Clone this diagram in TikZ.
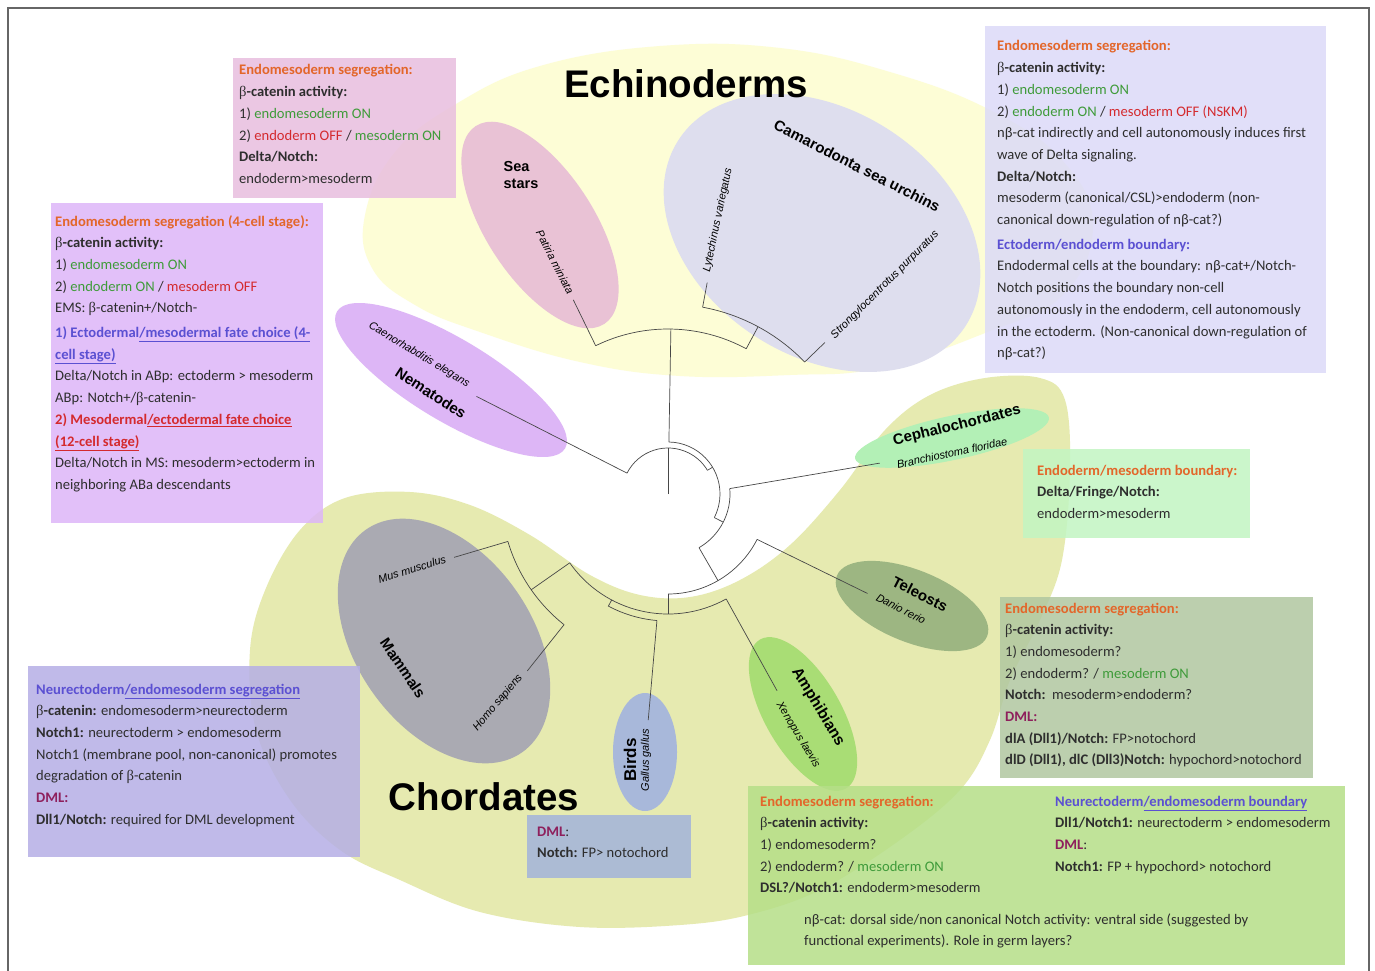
\documentclass[tikz,border=0pt]{standalone}
\usepackage{fontspec}
\setmainfont{Carlito}
\newfontfamily\arial{Liberation Sans}
\newfontfamily\serifb{Liberation Serif}
\usetikzlibrary{shapes.geometric}
\definecolor{corange}{HTML}{E3662A}
\definecolor{cgreen}{HTML}{3F9B3A}
\definecolor{cred}{HTML}{D42A2E}
\definecolor{cblue}{HTML}{5B50D2}
\definecolor{cdml}{HTML}{8E1F5C}
\definecolor{ctext}{HTML}{2E2E2E}
\definecolor{blobE}{HTML}{FDFDD6}
\definecolor{blobC}{HTML}{E6EAB0}
\definecolor{eSS}{HTML}{E9C2D5}
\definecolor{eCU}{HTML}{DEDEEE}
\definecolor{eNE}{HTML}{DDB6F6}
\definecolor{eCE}{HTML}{B3F0B6}
\definecolor{eTE}{HTML}{9DB682}
\definecolor{eAM}{HTML}{A9DD75}
\definecolor{eBI}{HTML}{A8B8DA}
\definecolor{eMA}{HTML}{AAAAB2}
\definecolor{cb1}{HTML}{E8BEDF}
\definecolor{cb2}{HTML}{DDB6F8}
\definecolor{cb3}{HTML}{DCDAF8}
\definecolor{cb4}{HTML}{C2F5C2}
\definecolor{cb5}{HTML}{B1C7A0}
\definecolor{cb6}{HTML}{B5DF88}
\definecolor{cb7}{HTML}{B5AFE6}
\definecolor{cb8}{HTML}{A2B3DB}
\newcommand\xbc{{\serifb β}}
\newcommand\xog[1]{\textcolor{corange}{\textbf{#1}}}
\newcommand\xgr[1]{\textcolor{cgreen}{#1}}
\newcommand\xrd[1]{\textcolor{cred}{#1}}
\newcommand\xbl[1]{\textcolor{cblue}{\textbf{#1}}}
\newcommand\xdm[1]{\textcolor{cdml}{\textbf{#1}}}
\newcommand\xbt[2]{\parbox[t]{#1}{\raggedright\fontsize{14.6}{21.7}\selectfont #2}}
\tikzset{
  tree/.style={draw=black!72, line width=0.7pt},
  boxbg/.style={draw=none, anchor=north west, inner sep=0pt, fill opacity=0.85},
  boxtxt/.style={anchor=base west, inner sep=0pt, text=ctext},
  ell/.style={ellipse, draw=none, inner sep=0pt},
  lab/.style={font=\arial\bfseries\fontsize{15}{17}\selectfont, inner sep=0pt, text=black},
  sp/.style={font=\arial\itshape\fontsize{11}{12}\selectfont, inner sep=0pt, text=black},
  big/.style={font=\arial\bfseries\fontsize{38.5}{40}\selectfont, inner sep=0pt, text=black},
}
\begin{document}
\begin{tikzpicture}[x=1pt,y=-1pt]
\useasboundingbox (0,0) rectangle (1375,971);
\fill[white] (0,0) rectangle (1375,971);
% background blobs
\fill[blobE] plot[smooth cycle, tension=0.7] coordinates {(365,215) (395,152) (456,104) (540,66) (660,46) (780,48) (890,72) (990,110) (1062,160) (1093,225) (1063,295) (985,333) (880,368) (790,375) (680,376) (580,362) (480,332) (415,305) (372,268)};
\fill[blobC] plot[smooth cycle, tension=0.6] coordinates {(250,650) (266,588) (300,530) (345,498) (410,492) (470,505) (530,535) (590,575) (640,595) (690,597) (740,580) (790,545) (840,490) (885,430) (930,395) (985,378) (1040,378) (1065,400) (1070,470) (1062,560) (1040,620) (1010,680) (990,740) (960,790) (900,840) (820,890) (748,915) (680,925) (580,927) (480,912) (400,880) (340,850) (290,800) (256,730)};
% ellipses
\node[ell, fill=eSS, minimum width=236pt, minimum height=108pt, rotate=-57] (eSS) at (540,225) {};
\node[ell, fill=eCU, minimum width=342pt, minimum height=246pt, rotate=-33] (eCU) at (822,233) {};
\node[ell, fill=eNE, minimum width=266pt, minimum height=82pt, rotate=-31] (eNE) at (451,380) {};
\node[ell, fill=eCE, minimum width=198pt, minimum height=44pt, rotate=12] (eCE) at (952,438) {};
\node[ell, fill=eTE, minimum width=162pt, minimum height=72pt, rotate=-22] (eTE) at (912,606) {};
\node[ell, fill=eAM, minimum width=172pt, minimum height=76pt, rotate=-60] (eAM) at (803,714) {};
\node[ell, fill=eBI, minimum width=64pt, minimum height=118pt] (eBI) at (645,752) {};
\node[ell, fill=eMA, minimum width=272pt, minimum height=176pt, rotate=-55] (eMA) at (444,641) {};
% boxes
\node[boxbg, fill=cb1, minimum width=223pt, minimum height=140pt] (b1) at (233,58) {};
\node[boxbg, fill=cb2, minimum width=272pt, minimum height=320pt] (b2) at (51,203) {};
\node[boxbg, fill=cb3, minimum width=341pt, minimum height=347pt] (b3) at (985,26) {};
\node[boxbg, fill=cb4, minimum width=227pt, minimum height=89pt] (b4) at (1023,449) {};
\node[boxbg, fill=cb5, minimum width=313pt, minimum height=181pt] (b5) at (1000,597) {};
\node[boxbg, fill=cb6, minimum width=597pt, minimum height=179pt] (b6) at (748,786) {};
\node[boxbg, fill=cb7, minimum width=332pt, minimum height=191pt] (b7) at (28,666) {};
\node[boxbg, fill=cb8, minimum width=164pt, minimum height=63pt] (b8) at (527,815) {};
% frame
\draw[black!60, line width=1.5pt] (8,990) -- (8,8) -- (1369,8) -- (1369,990);
% tree
\begin{scope}[shift={(668,494)}, yscale=-1]
\coordinate (root) at (0,0);
\coordinate (rA) at (90:46);
\draw[tree] (root) -- (rA);
\coordinate (rA1) at (153:46);
\draw[tree] (rA1) arc[start angle=153,end angle=31,radius=46] coordinate (rA2);
\coordinate (nemE) at (153:215);
\draw[tree] (rA1) -- (nemE);
\coordinate (dA) at (31:52);
\draw[tree] (rA2) -- (dA);
\coordinate (dA1) at (89:52);
\draw[tree] (dA1) arc[start angle=89,end angle=-27,radius=52] coordinate (dA2);
\coordinate (ech) at (89:165);
\draw[tree] (dA1) -- (ech);
\coordinate (ech1) at (116:165);
\draw[tree] (ech1) arc[start angle=116,end angle=61.7,radius=165] coordinate (ech2);
\coordinate (ssE) at (116:216);
\draw[tree] (ech1) -- (ssE);
\coordinate (urc) at (61.7:190);
\draw[tree] (ech2) -- (urc);
\coordinate (urc1) at (79.5:190);
\draw[tree] (urc1) arc[start angle=79.5,end angle=44,radius=190] coordinate (urc2);
\coordinate (lvE) at (79.5:215);
\draw[tree] (urc1) -- (lvE);
\coordinate (spE) at (44:218);
\draw[tree] (urc2) -- (spE);
\coordinate (chA) at (-27:62);
\draw[tree] (dA2) -- (chA);
\coordinate (chA1) at (5:62);
\draw[tree] (chA1) arc[start angle=5,end angle=-60,radius=62] coordinate (chA2);
\coordinate (bfE) at (8.3:214);
\draw[tree] (chA1) -- (bfE);
\coordinate (osA) at (-60:100);
\draw[tree] (chA2) -- (osA);
\coordinate (osA1) at (-27:100);
\draw[tree] (osA1) arc[start angle=-27,end angle=-90,radius=100] coordinate (osA2);
\coordinate (drE) at (-26.5:223);
\draw[tree] (osA1) -- (drE);
\coordinate (teA) at (-90:120);
\draw[tree] (osA2) -- (teA);
\coordinate (teA1) at (-61:120);
\draw[tree] (teA1) arc[start angle=-61,end angle=-145,radius=120] coordinate (teA2);
\coordinate (xlE) at (-61:225);
\draw[tree] (teA1) -- (xlE);
\coordinate (amA0) at (-118:120);
\coordinate (amA1) at (-118:127);
\draw[tree] (amA0) -- (amA1) arc[start angle=-118,end angle=-95,radius=127] coordinate (amA2);
\coordinate (ggE) at (-95:227);
\draw[tree] (amA2) -- (ggE);
\coordinate (mmA) at (-145:167);
\draw[tree] (teA2) -- (mmA);
\coordinate (mmA1) at (-128.5:167);
\draw[tree] (mmA1) arc[start angle=-128.5,end angle=-163.5,radius=167] coordinate (mmA2);
\coordinate (hsE) at (-128.5:226);
\draw[tree] (mmA1) -- (hsE);
\coordinate (muE) at (-163.5:223);
\draw[tree] (mmA2) -- (muE);
\end{scope}
% big labels
\node[big] (lE) at (686,84) {Echinoderms};
\node[big] (lC) at (484,797) {Chordates};
% clade labels
\node[lab, align=left, font=\arial\bfseries\fontsize{14.5}{17}\selectfont] (lSS) at (521,175) {Sea\\stars};
\node[sp, rotate=-63] (lPM) at (555,262) {Patiria miniata};
\node[lab, rotate=-27] (lCU) at (857,166) {Camarodonta sea urchins};
\node[sp, rotate=78] (lLV) at (718,220) {Lytechinus variegatus};
\node[sp, rotate=45] (lSP) at (885,285) {Strongylocentrotus purpuratus};
\node[sp, rotate=-31] (lCEl) at (419,355) {Caenorhabditis elegans};
\node[lab, rotate=-33] (lNE) at (431,393) {Nematodes};
\node[lab, rotate=14] (lCE) at (957,426) {Cephalochordates};
\node[sp, rotate=12] (lBF) at (952,453) {Branchiostoma floridae};
\node[lab, rotate=-27] (lTE) at (920,594) {Teleosts};
\node[sp, rotate=-27] (lDR) at (901,609) {Danio rerio};
\node[lab, rotate=-59, font=\arial\bfseries\fontsize{15.5}{17}\selectfont] (lAM) at (818,707) {Amphibians};
\node[sp, rotate=-59] (lXL) at (798,735) {Xenopus laevis};
\node[lab, rotate=90, font=\arial\bfseries\fontsize{17}{18}\selectfont] (lBI) at (630,760) {Birds};
\node[sp, rotate=90] (lGG) at (646,760) {Gallus gallus};
\node[lab, rotate=-56] (lMA) at (403,668) {Mammals};
\node[sp, rotate=17] (lMM) at (412,569) {Mus musculus};
\node[sp, rotate=50] (lHS) at (498,703) {Homo sapiens};
% box texts
\node[boxtxt] (t1) at (239,75) {\xbt{215pt}{%
\xog{Endomesoderm segregation:}\\
\xbc\textbf{-catenin activity:}\\
1) \xgr{endomesoderm ON}\\
2) \xrd{endoderm OFF} / \xgr{mesoderm ON}\\
\textbf{Delta/Notch:}\\
endoderm>mesoderm}};
\node[boxtxt] (t2) at (55,226) {\xbt{268pt}{%
\xog{Endomesoderm segregation (4-cell stage):}\\
\xbc\textbf{-catenin activity:}\\
1) \xgr{endomesoderm ON}\\
2) \xgr{endoderm ON} / \xrd{mesoderm OFF}\\
EMS: \xbc-catenin+/Notch-\\[3pt]
\xbl{1) Ectodermal\underline{/mesodermal fate choice (4-}}\\
\xbl{\underline{cell stage)}}\\
Delta/Notch in ABp: ectoderm > mesoderm\\
ABp: Notch+/\xbc-catenin-\\
\textcolor{cred}{\textbf{2) Mesodermal\underline{/ectodermal fate choice}}}\\
\textcolor{cred}{\textbf{\underline{(12-cell stage)}}}\\
Delta/Notch in MS: mesoderm>ectoderm in\\
neighboring ABa descendants}};
\node[boxtxt] (t3) at (997,51) {\xbt{325pt}{%
\xog{Endomesoderm segregation:}\\
\xbc\textbf{-catenin activity:}\\
1) \xgr{endomesoderm ON}\\
2) \xgr{endoderm ON} / \xrd{mesoderm OFF (NSKM)}\\
nβ-cat indirectly and cell autonomously induces first\\
wave of Delta signaling.\\
\textbf{Delta/Notch:}\\
mesoderm (canonical/CSL)>endoderm (non-\\
canonical down-regulation of nβ-cat?)\\[3pt]
\xbl{Ectoderm/endoderm boundary:}\\
Endodermal cells at the boundary: nβ-cat+/Notch-\\
Notch positions the boundary non-cell\\
autonomously in the endoderm, cell autonomously\\
in the ectoderm. (Non-canonical down-regulation of\\
nβ-cat?)}};
\node[boxtxt] (t4) at (1037,475) {\xbt{210pt}{%
\xog{Endoderm/mesoderm boundary:}\\
\textbf{Delta/Fringe/Notch:}\\
endoderm>mesoderm}};
\node[boxtxt] (t5) at (1005,613) {\xbt{305pt}{%
\xog{Endomesoderm segregation:}\\
\xbc\textbf{-catenin activity:}\\
1) endomesoderm?\\
2) endoderm? / \xgr{mesoderm ON}\\
\textbf{Notch:}\ \ mesoderm>endoderm?\\
\xdm{DML:}\\
\textbf{dlA (Dll1)/Notch:} FP>notochord\\
\textbf{dlD (Dll1), dlC (Dll3)Notch:} hypochord>notochord}};
\node[boxtxt] (t6a) at (760,806) {\xbt{290pt}{%
\xog{Endomesoderm segregation:}\\
\xbc\textbf{-catenin activity:}\\
1) endomesoderm?\\
2) endoderm? / \xgr{mesoderm ON}\\
\textbf{DSL?/Notch1:} endoderm>mesoderm}};
\node[boxtxt] (t6b) at (1055,806) {\xbt{285pt}{%
\xbl{Neurectoderm\underline{/endomesoderm boundary}}\\
\textbf{Dll1/Notch1:} neurectoderm > endomesoderm\\
\xdm{DML}:\\
\textbf{Notch1:} FP + hypochord> notochord}};
\node[boxtxt] (t6c) at (804,924) {\xbt{530pt}{%
nβ-cat: dorsal side/non canonical Notch activity: ventral side (suggested by\\
functional experiments). Role in germ layers?}};
\node[boxtxt] (t7) at (36,694) {\xbt{320pt}{%
\xbl{Neurectoderm\underline{/endomesoderm segregation}}\\
\xbc\textbf{-catenin:} endomesoderm>neurectoderm\\
\textbf{Notch1:} neurectoderm > endomesoderm\\
Notch1 (membrane pool, non-canonical) promotes\\
degradation of \xbc-catenin\\
\xdm{DML:}\\
\textbf{Dll1/Notch:} required for DML development}};
\node[boxtxt] (t8) at (537,836) {\xbt{150pt}{%
\xdm{DML}:\\
\textbf{Notch:} FP> notochord}};
\end{tikzpicture}
\end{document}
